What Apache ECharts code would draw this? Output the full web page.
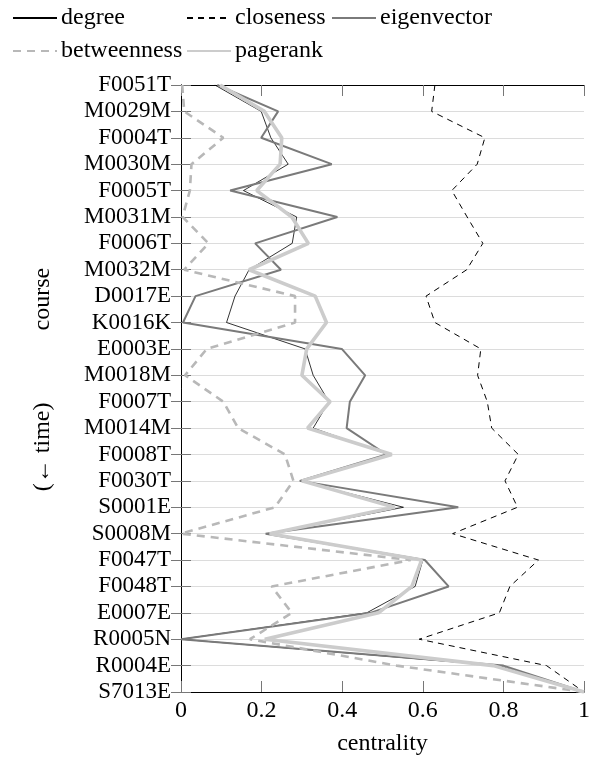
<!DOCTYPE html>
<html>
<head>
<meta charset="utf-8">
<script src="https://cdn.jsdelivr.net/npm/echarts@6/dist/echarts.min.js"></script>
<style>
html,body{margin:0;padding:0;background:#fff;}
#chart{width:597px;height:764px;}
</style>
</head>
<body>
<div id="chart"></div>
<script>
const categories = ['F0051T','M0029M','F0004T','M0030M','F0005T','M0031M','F0006T','M0032M','D0017E','K0016K','E0003E','M0018M','F0007T','M0014M','F0008T','F0030T','S0001E','S0008M','F0047T','F0048T','E0007E','R0005N','R0004E','S7013E'];
const xTicks = [0, 0.2, 0.4, 0.6, 0.8, 1];
const degree = [0.084,0.199,0.223,0.266,0.155,0.287,0.276,0.169,0.134,0.113,0.308,0.328,0.367,0.328,0.514,0.295,0.552,0.217,0.600,0.581,0.461,0.0,0.79,1.0];
const closeness = [0.630,0.622,0.754,0.735,0.672,0.710,0.749,0.709,0.608,0.630,0.744,0.736,0.760,0.771,0.837,0.804,0.835,0.674,0.887,0.816,0.790,0.591,0.907,1.0];
const eigenvector = [0.09,0.241,0.199,0.374,0.122,0.388,0.184,0.248,0.036,0.005,0.399,0.457,0.419,0.411,0.51,0.295,0.688,0.21,0.605,0.664,0.47,0.0,0.80,1.0];
const betweenness = [0.003,0.008,0.105,0.026,0.022,0.004,0.068,0.008,0.283,0.283,0.064,0.01,0.105,0.142,0.258,0.279,0.233,0.0,0.57,0.225,0.275,0.171,0.535,1.0];
const pagerank = [0.097,0.207,0.25,0.246,0.188,0.275,0.316,0.169,0.333,0.361,0.312,0.30,0.37,0.314,0.523,0.30,0.53,0.22,0.597,0.573,0.49,0.208,0.775,1.0];

const FONT = '"Times New Roman", Tinos, "Liberation Serif", "DejaVu Serif", serif';
const chart = echarts.init(document.getElementById('chart'), null, {renderer:'canvas'});

function legendAt(name, left, top){
  return {
    data:[name], left:left, top:top, orient:'horizontal',
    itemWidth:44, itemHeight:14, itemGap:0,
    itemStyle:{opacity:0},
    textStyle:{fontFamily:FONT, fontSize:24, color:'#000', padding:[0,0,0,-1]},
    selectedMode:false, padding:0
  };
}

const option = {
  backgroundColor:'#fff',
  animation:false,
  textStyle:{fontFamily:FONT},
  legend:[
    legendAt('degree', 12, 6),
    legendAt('closeness', 186, 6),
    legendAt('eigenvector', 331, 6),
    legendAt('betweenness', 12, 39),
    legendAt('pagerank', 186, 39)
  ],
  grid:{left:181, right:13, top:85, bottom:72, containLabel:false},
  xAxis:[{
    type:'value', min:xTicks[0], max:xTicks[xTicks.length-1], interval:0.2, position:'bottom',
    name:'centrality', nameLocation:'middle', nameGap:40,
    nameTextStyle:{fontFamily:FONT, fontSize:24, color:'#000'},
    axisLine:{show:true, lineStyle:{color:'#000', width:1}},
    axisTick:{show:true, inside:true, length:11, lineStyle:{color:'#777'}},
    axisLabel:{fontFamily:FONT, fontSize:24, color:'#000', margin:7,
      formatter:function(v){return String(Math.round(v*10)/10);}},
    splitLine:{show:false}
  },{
    type:'value', min:xTicks[0], max:xTicks[xTicks.length-1], interval:0.2, position:'top',
    axisLine:{show:true, lineStyle:{color:'#000', width:1}},
    axisTick:{show:true, inside:true, length:11, lineStyle:{color:'#777'}},
    axisLabel:{show:false}, splitLine:{show:false}
  }],
  yAxis:[{
    type:'category', data:categories, inverse:true, boundaryGap:false, position:'left',
    name:'   (\u2190 time)            course', nameLocation:'middle', nameRotate:90, nameGap:126,
    nameTextStyle:{fontFamily:FONT, fontSize:24, color:'#000'},
    axisLine:{show:true, lineStyle:{color:'#000', width:1}},
    axisTick:{show:true, inside:true, length:10, lineStyle:{color:'#777'}},
    axisLabel:{fontFamily:FONT, fontSize:23, color:'#000', margin:10, interval:0},
    splitLine:{show:true, interval:0, lineStyle:{color:'#dcdcdc', width:1}}
  },{
    type:'category', data:categories, inverse:true, boundaryGap:false, position:'right',
    axisLine:{show:true, lineStyle:{color:'#000', width:1}},
    axisTick:{show:true, inside:true, length:10, interval:0, lineStyle:{color:'#777'}},
    axisLabel:{show:false}, splitLine:{show:false}
  }],
  series:[
    {name:'degree', type:'line', data:degree, symbol:'none', xAxisIndex:0, yAxisIndex:0,
      lineStyle:{color:'#000', width:0.8}, itemStyle:{color:'#000'}, z:2},
    {name:'closeness', type:'line', data:closeness, symbol:'none', xAxisIndex:0, yAxisIndex:0,
      lineStyle:{color:'#000', width:1, type:[6,5]}, itemStyle:{color:'#000'}, z:3},
    {name:'eigenvector', type:'line', data:eigenvector, symbol:'none', xAxisIndex:0, yAxisIndex:0,
      lineStyle:{color:'#7a7a7a', width:2}, itemStyle:{color:'#7a7a7a'}, z:4},
    {name:'betweenness', type:'line', data:betweenness, symbol:'none', xAxisIndex:0, yAxisIndex:0,
      lineStyle:{color:'#b8b8b8', width:2.6, type:[8,6]}, itemStyle:{color:'#b8b8b8'}, z:5},
    {name:'pagerank', type:'line', data:pagerank, symbol:'none', xAxisIndex:0, yAxisIndex:0,
      lineStyle:{color:'#cccccc', width:3.6}, itemStyle:{color:'#cccccc'}, z:6}
  ]
};
chart.setOption(option);
</script>
</body>
</html>
